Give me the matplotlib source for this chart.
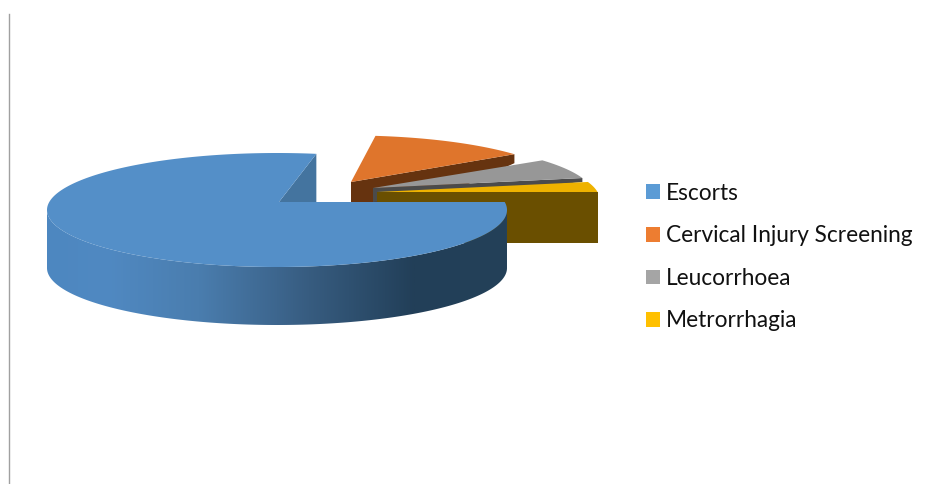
import numpy as np
import matplotlib
matplotlib.use("Agg")
import matplotlib.pyplot as plt
from matplotlib.patches import Polygon, Patch
from matplotlib.colors import LinearSegmentedColormap

categories = ["Escorts", "Cervical Injury Screening", "Leucorrhoea", "Metrorrhagia"]
values = [75, 13.6, 7.8, 3.6]
legend_colors = ["#5b9bd5", "#ed7d31", "#a5a5a5", "#ffc000"]
top_colors = ["#548fc8", "#df752c", "#979797", "#eeb200"]
wall_colors = ["#44749f", "#66330f", "#4b4b4b", "#6a4f00"]
apexes = [(279, 202), (351, 182), (373, 188), (377, 192)]
radii = [1.0, 0.95, 0.97, 0.977]
shears = [38, 26, 38, 38]

RX, RY = 230, 57            # ellipse of the pie top
OFF_X, OFF_Y = -2, 8        # ellipse centre relative to a slice apex
DIR_X, DIR_B, DIR_F = 228, 49, 65

plt.rcParams["font.family"] = ["Lato", "DejaVu Sans"]
fig = plt.figure(figsize=(9.52, 4.84), dpi=100)
ax = fig.add_axes([0, 0, 1, 1])
ax.set_xlim(0, 952)
ax.set_ylim(484, 0)
ax.axis("off")


def project(i, t):
    """Where the radius at pie angle t of slice i meets its rim on the tilted ellipse."""
    r = radii[i]
    s, c = np.sin(t), np.cos(t)
    dx = DIR_X * s + shears[i] * np.maximum(c, 0)
    dy = -np.where(c > 0, DIR_B, DIR_F) * c
    ox, oy = -OFF_X * r, -OFF_Y * r
    A = (dx / (r * RX)) ** 2 + (dy / (r * RY)) ** 2
    B = 2 * (ox * dx / (r * RX) ** 2 + oy * dy / (r * RY) ** 2)
    C = (ox / (r * RX)) ** 2 + (oy / (r * RY)) ** 2 - 1
    k = (-B + np.sqrt(B * B - 4 * A * C)) / (2 * A)
    return apexes[i][0] + k * dx, apexes[i][1] + k * dy


# slice angles, clockwise from twelve o'clock, first slice starting at three o'clock
edges = np.radians(90 + np.cumsum([0] + values) * 360 / sum(values))
arcs = [project(i, np.linspace(edges[i], edges[i + 1], 600)) for i in range(4)]


def top_poly(i):
    xa, ya = arcs[i]
    return np.column_stack([np.r_[apexes[i][0], xa], np.r_[apexes[i][1], ya]])


# walls of the three small slices: facing the viewer along the end radius
wall_depth = [(55, 9), (14, 4), (51, 51)]
for i in (1, 2, 3):
    xa, ya = arcs[i]
    px, py = apexes[i]
    d0, d1 = wall_depth[i - 1]
    ax.add_patch(Polygon([(px, py), (xa[-1], ya[-1]), (xa[-1], ya[-1] + d1), (px, py + d0)],
                         closed=True, fc=wall_colors[i], ec="none", zorder=1 + i))
    ax.add_patch(Polygon(top_poly(i), closed=True, fc=top_colors[i], ec="none", zorder=1.5 + i))

# inner wall of the large slice, seen through the gap
xa, ya = arcs[0]
ax.add_patch(Polygon([apexes[0], (xa[-1], ya[-1]), (xa[-1], apexes[0][1])],
                     closed=True, fc=wall_colors[0], ec="none", zorder=6))

# rim of the large slice with its horizontal shading, clipped to the rim outline
shade = LinearSegmentedColormap.from_list(
    "rim", [(0, "#4d87c0"), (0.13, "#5089c2"), (0.33, "#4a7dae"), (0.5, "#3d668e"),
            (0.57, "#375c80"), (0.8, "#223f58"), (1, "#244159")])
cx, cy = apexes[0][0] + OFF_X, apexes[0][1] + OFF_Y
phi = np.linspace(np.pi / 2, 3 * np.pi / 2, 500)
fx = cx + RX * np.sin(phi)
fy = cy - RY * np.cos(phi)
RIM = 58
rim_outline = np.column_stack([np.r_[fx, fx[::-1]], np.r_[fy, fy[::-1] + RIM]])
rim_patch = Polygon(rim_outline, closed=True, fc="none", ec="none", transform=ax.transData)
ax.add_patch(rim_patch)
img = ax.imshow(np.linspace(0, 1, 512)[None, :], cmap=shade, aspect="auto", vmin=0, vmax=1,
                extent=(cx - RX, cx + RX, cy + RY + RIM + 2, cy - 2), zorder=7,
                interpolation="bilinear")
img.set_clip_path(rim_patch)
ax.set_xlim(0, 952)
ax.set_ylim(484, 0)

ax.add_patch(Polygon(top_poly(0), closed=True, fc=top_colors[0], ec="none", zorder=8))

# vertical rule at the left of the picture
ax.plot([8.5, 8.5], [14, 484], color="#a0a0a0", lw=1, zorder=1)

handles = [Patch(fc=c, ec="none") for c in legend_colors]
ax.legend(handles, categories, loc="upper left", bbox_to_anchor=(639 / 952, 1 - 176 / 484),
          frameon=False, fontsize=16.3, handlelength=0.62, handleheight=0.62,
          handletextpad=0.27, labelspacing=0.95, borderpad=0.3, borderaxespad=0,
          labelcolor="#111111")

fig.savefig("out.png", dpi=100, facecolor="white")
